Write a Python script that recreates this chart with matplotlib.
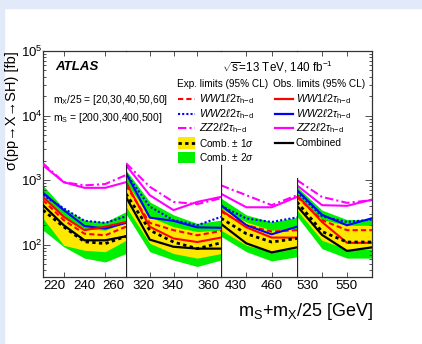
import matplotlib.pyplot as plt
from matplotlib.lines import Line2D
from matplotlib.patches import Rectangle
from matplotlib.ticker import LogLocator, NullFormatter

plt.rcParams['font.family'] = ['Liberation Sans', 'DejaVu Sans']
plt.rcParams['mathtext.fontset'] = 'custom'
plt.rcParams['mathtext.rm'] = 'Liberation Sans'
plt.rcParams['mathtext.it'] = 'Liberation Sans:italic'
plt.rcParams['mathtext.bf'] = 'Liberation Sans:bold'

RED = "#ff0000"
BLUE = "#0000ff"
MAGENTA = "#ff00ff"
GREEN = "#00f000"
YELLOW = "#ffe800"
LIGHT = "#e2eafa"

# x = m_S + m_X/25, one list per m_S value
mass = [[220, 230, 240, 250, 260],
        [320, 330, 340, 350, 360],
        [430, 440, 450, 460],
        [530, 540, 550, 560]]

exp_comb = [[343, 189, 111, 104, 135], [615, 168, 110, 87, 107],
            [257, 148, 110, 125], [460, 160, 110, 110]]
obs_comb = [[410, 200, 117, 117, 135], [550, 120, 93, 87, 87],
            [210, 105, 76, 91], [400, 142, 80, 91]]
band1_up = [[585, 270, 178, 168, 224], [930, 270, 190, 160, 168],
            [365, 225, 168, 178], [585, 245, 200, 200]]
band1_dn = [[257, 98, 82, 78, 117], [390, 105, 73, 62, 73],
            [168, 98, 78, 87], [343, 117, 85, 85]]
band2_up = [[830, 365, 240, 225, 325], [1430, 460, 290, 214, 240],
            [525, 290, 225, 265], [790, 343, 245, 245]]
band2_dn = [[168, 93, 62, 54, 73], [300, 78, 58, 46, 58],
            [135, 78, 56, 65], [275, 87, 62, 62]]
ww1_exp = [[490, 240, 148, 140, 190], [830, 218, 168, 140, 163],
           [325, 200, 160, 168], [550, 240, 168, 168]]
ww1_obs = [[550, 270, 168, 190, 225], [930, 190, 125, 110, 129],
           [343, 186, 129, 129], [585, 225, 107, 107]]
ww2_exp = [[585, 365, 235, 218, 275], [1260, 390, 240, 200, 270],
           [400, 255, 225, 265], [660, 275, 225, 245]]
ww2_obs = [[635, 343, 195, 178, 218], [1290, 263, 234, 186, 183],
           [410, 200, 145, 190], [700, 290, 200, 257]]
zz_exp = [[1820, 930, 830, 870, 1200], [1830, 790, 460, 425, 525],
          [830, 585, 410, 585], [1000, 550, 445, 490]]
zz_obs = [[1700, 930, 760, 760, 930], [1700, 585, 343, 460, 550],
          [615, 380, 380, 550], [830, 410, 400, 500]]

tick_text = [["220", "240", "260"], ["320", "340", "360"],
             ["430", "460"], ["530", "550"]]
tick_pos = [[225.3, 240, 254], [327.4, 339.6, 354.7],
            [435.9, 449.9], [534.2, 549.6]]

W, H = 422, 344
fig = plt.figure(figsize=(W / 100, H / 100), dpi=100)
fig.patch.set_facecolor("white")
fig.patches.append(Rectangle((0, 1 - 8 / H), 1, 8 / H, transform=fig.transFigure,
                             color=LIGHT, zorder=0))
fig.patches.append(Rectangle((0, 0), 4 / W, 1, transform=fig.transFigure,
                             color=LIGHT, zorder=0))


def px(x, y):
    return x / W, 1 - y / H


edges = [43, 126, 221, 297, 372]
top, bottom = 51, 277
sep_top = [165, 165, 178]   # pixel height where the segment separators stop

for i in range(4):
    ax = fig.add_axes([edges[i] / W, (H - bottom) / H,
                       (edges[i + 1] - edges[i]) / W, (bottom - top) / H])
    ax.patch.set_alpha(0)
    x = mass[i]
    ax.fill_between(x, band2_dn[i], band2_up[i], color=GREEN, lw=0, zorder=1)
    ax.fill_between(x, band1_dn[i], band1_up[i], color=YELLOW, lw=0, zorder=2)
    ax.plot(x, zz_exp[i], color=MAGENTA, lw=1.5, ls=(0, (4, 1.5, 1, 1.5)), zorder=3)
    ax.plot(x, zz_obs[i], color=MAGENTA, lw=1.5, zorder=3)
    ax.plot(x, ww2_exp[i], color=BLUE, lw=1.5, ls=(0, (1, 1)), zorder=3)
    ax.plot(x, ww1_exp[i], color=RED, lw=1.5, ls=(0, (2.5, 1.5)), zorder=3)
    ax.plot(x, ww2_obs[i], color=BLUE, lw=1.5, zorder=4)
    ax.plot(x, ww1_obs[i], color=RED, lw=1.5, zorder=4)
    ax.plot(x, exp_comb[i], color="black", lw=2, ls=(0, (1.2, 1.2)), zorder=5)
    ax.plot(x, obs_comb[i], color="black", lw=1.6, zorder=5)

    ax.set_xlim(x[0], x[-1])
    ax.set_yscale('log')
    ax.set_ylim(10 ** 1.5, 1e5)
    ax.yaxis.set_major_locator(LogLocator(base=10, numticks=10))
    ax.yaxis.set_minor_locator(LogLocator(base=10, subs=range(2, 10), numticks=10))
    ax.yaxis.set_minor_formatter(NullFormatter())
    ax.set_xticks(tick_pos[i])
    ax.set_xticklabels(tick_text[i])
    ax.set_xticks(x[1:-1], minor=True)
    ax.tick_params(which='both', direction='in', top=True, left=(i == 0),
                   right=(i == 3), width=0.6, color="#333333")
    ax.tick_params(axis='y', which='major', length=5, labelsize=9.5, pad=0.5)
    ax.tick_params(axis='y', which='minor', length=2.5)
    ax.tick_params(axis='x', which='major', length=0, labelsize=9.5, pad=2)
    ax.tick_params(axis='x', which='minor', length=3.5)
    if i > 0:
        ax.tick_params(labelleft=False)
    for s in ax.spines.values():
        s.set_linewidth(0.9)
        s.set_color("#333333")
    if i > 0:
        ax.spines['left'].set_visible(False)
        frac = (bottom - sep_top[i - 1]) / (bottom - top)
        ax.axvline(x[0], ymin=0, ymax=frac, color="#222222", lw=0.9, zorder=6)
    if i < 3:
        ax.spines['right'].set_visible(False)

fig.text(*px(12, 51), "σ(pp→X→SH) [fb]", rotation=90,
         ha='center', va='top', fontsize=10.5)
fig.text(*px(373, 311), r"m$_\mathrm{S}$+m$_\mathrm{X}$/25 [GeV]", ha='right',
         va='center', fontsize=13)

fig.text(*px(55, 67), "ATLAS", fontsize=9.5, fontweight='bold', style='italic',
         va='center')
fig.text(*px(222, 67), r"$\sqrt{\mathrm{s}}$=13 TeV, 140 fb$^{-1}$", fontsize=8.4,
         va='center')
fig.text(*px(53, 100), r"m$_\mathrm{X}$/25 = [20,30,40,50,60]", fontsize=7.4,
         va='center')
fig.text(*px(53, 118), r"m$_\mathrm{S}$ = [200,300,400,500]", fontsize=7.4,
         va='center')

# legend
LEG = 7.2
fig.text(*px(177, 84), "Exp. limits (95% CL)", fontsize=LEG, va='center')
fig.text(*px(273, 84), "Obs. limits (95% CL)", fontsize=LEG, va='center')
tau = r"$\tau_{\mathrm{h}\!-\!\mathrm{d}}$"
rows = [99, 114, 128, 143, 157]
exp_entries = [(RED, (0, (2.5, 1.5)), r"$WW1\ell2$" + tau),
               (BLUE, (0, (1, 1)), r"$WW2\ell2$" + tau),
               (MAGENTA, (0, (4, 1.5, 1, 1.5)), r"$ZZ2\ell2$" + tau)]
obs_entries = [(RED, r"$WW1\ell2$" + tau), (BLUE, r"$WW2\ell2$" + tau),
               (MAGENTA, r"$ZZ2\ell2$" + tau), ("black", "Combined")]
ENT = 7.8
for (c, ls, lab), y in zip(exp_entries, rows):
    fig.add_artist(Line2D([178 / W, 195 / W], [1 - y / H] * 2, color=c, lw=1.5, ls=ls))
    fig.text(*px(199, y), lab, fontsize=ENT, va='center')
for (c, lab), y in zip(obs_entries, rows):
    fig.add_artist(Line2D([275 / W, 293 / W], [1 - y / H] * 2, color=c, lw=1.6))
    fig.text(*px(296, y), lab, fontsize=ENT if c != "black" else 7.3, va='center')
for col, y, lab in [(YELLOW, rows[3], r"Comb. $\pm$ 1$\sigma$"),
                    (GREEN, rows[4], r"Comb. $\pm$ 2$\sigma$")]:
    fig.patches.append(Rectangle(px(178, y + 5.5), 17 / W, 11 / H,
                                 transform=fig.transFigure, color=col, lw=0))
    fig.text(*px(199, y), lab, fontsize=7.3, va='center')
fig.add_artist(Line2D([178 / W, 195 / W], [1 - rows[3] / H] * 2, color="black",
                      lw=2, ls=(0, (1.2, 1.2))))

fig.savefig("out.png", dpi=100)
